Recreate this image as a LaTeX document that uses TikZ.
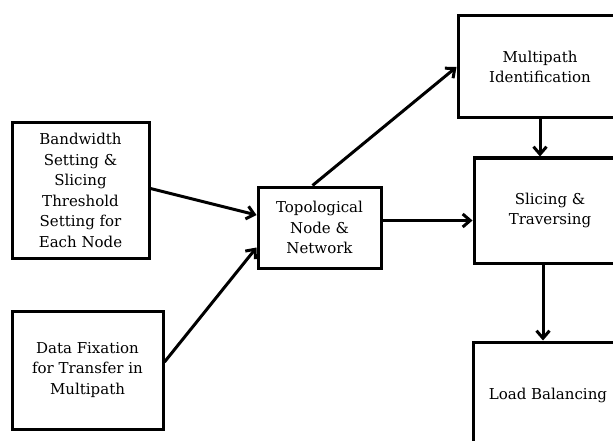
\documentclass[tikz,border=0pt]{standalone}
\usepackage{fontspec}
\setmainfont{DejaVu Serif}
\usetikzlibrary{arrows.meta}

\begin{document}
\begin{tikzpicture}[x=1pt,y=-1pt,>={Straight Barb[length=7.5pt,width=13pt]},
    block/.style = {draw, line width=3pt, align=center, inner sep=0pt,
                    font=\fontsize{15}{20.5}\selectfont},
    link/.style = {->, line width=3pt}]
\useasboundingbox (0,0) rectangle (613,441);
\clip (0,0) rectangle (613,441);
\node[block, minimum width=137pt, minimum height=135pt] (bw) at (80.5,190.5)
    {Bandwidth\\Setting \&\\Slicing\\Threshold\\Setting for\\Each Node};
\node[block, minimum width=151pt, minimum height=118pt] (df) at (87.5,370)
    {Data Fixation\\for Transfer in\\Multipath};
\node[block, minimum width=123pt, minimum height=81pt] (topo) at (319.5,227.5)
    {Topological\\Node \&\\Network};
\node[block, minimum width=164pt, minimum height=102pt] (mi) at (540,67)
    {Multipath\\Identification};
\node[block, minimum width=152pt, minimum height=105pt] (sl) at (550,210.5)
    {Slicing \&\\Traversing};
\node[block, minimum width=150pt, minimum height=106pt] (lb) at (548,395)
    {Load Balancing};
\draw[link] ([yshift=2pt]bw.east) -- ([yshift=12.5pt]topo.west);
\draw[link] ([yshift=8pt]df.east) -- ([yshift=-20pt]topo.west);
\draw[link] ([xshift=-7pt]topo.north) -- (mi.west);
\draw[link] ([yshift=7pt]topo.east) -- ([yshift=7pt]topo.east -| sl.west);
\draw[link] (mi.south) -- (mi.south |- sl.north);
\draw[link] ([xshift=-7pt]sl.south) -- ([xshift=-7pt]sl.south |- lb.north);
\end{tikzpicture}
\end{document}
